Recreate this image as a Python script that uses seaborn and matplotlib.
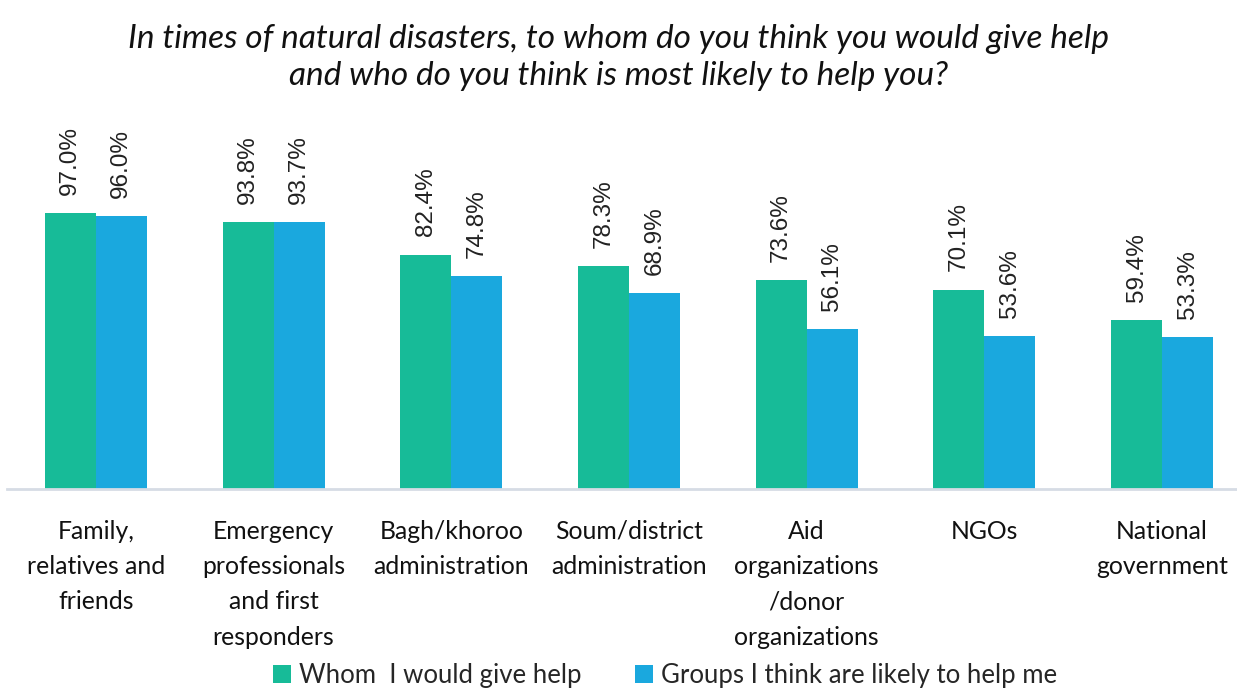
import pandas as pd
import numpy as np
import matplotlib
matplotlib.use("Agg")
import matplotlib.pyplot as plt
import seaborn as sns

categories = ["Family,\nrelatives and\nfriends",
              "Emergency\nprofessionals\nand first\nresponders",
              "Bagh/khoroo\nadministration",
              "Soum/district\nadministration",
              "Aid\norganizations\n/donor\norganizations",
              "NGOs",
              "National\ngovernment"]
give_help = [97.0, 93.8, 82.4, 78.3, 73.6, 70.1, 59.4]
get_help = [96.0, 93.7, 74.8, 68.9, 56.1, 53.6, 53.3]
series = ["Whom  I would give help", "Groups I think are likely to help me"]
colors = ["#17bb98", "#1aa8de"]

df = pd.DataFrame({
    "category": categories * 2,
    "value": give_help + get_help,
    "series": [series[0]] * 7 + [series[1]] * 7,
})

sns.set_style("white")
plt.rcParams['font.family'] = ['Lato', 'DejaVu Sans']

fig = plt.figure(figsize=(12.37, 6.91), dpi=100)
ax = fig.add_axes([7 / 1237, 202 / 691, 1244 / 1237, 313 / 691])

sns.barplot(data=df, x="category", y="value", hue="series", palette=colors,
            width=0.574, gap=0, saturation=1, linewidth=0, ax=ax, legend=True)

for c in ax.containers:
    ax.bar_label(c, labels=[f"{v:.1f}%" for v in c.datavalues], rotation=90,
                 padding=13, fontsize=17.5, family="Liberation Sans", color="#222222")

ax.set_xlim(-0.5, 6.5)
ax.set_ylim(0, 110)
ax.set_xlabel("")
ax.set_ylabel("")
ax.set_yticks([])
for s in ["top", "left", "right"]:
    ax.spines[s].set_visible(False)
ax.spines["bottom"].set_color("#d6dce5")
ax.spines["bottom"].set_linewidth(2)
ax.tick_params(axis="x", length=0, pad=22)
for t in ax.get_xticklabels():
    t.set_fontsize(17.8)
    t.set_linespacing(1.65)
    t.set_verticalalignment("top")
    t.set_color("#111111")

ax.legend(loc="center", ncol=2, frameon=False, fontsize=18.5, handlelength=0.7,
          handleheight=0.7, handletextpad=0.3, columnspacing=2.1)
leg = ax.get_legend()
leg.set_bbox_to_anchor((665 / 1237, 16 / 691), transform=fig.transFigure)

fig.text(0.5, 0.965, "In times of natural disasters, to whom do you think you would give help\n"
         "and who do you think is most likely to help you?", ha="center", va="top",
         fontsize=24, style="italic", linespacing=1.3, color="#111111")

fig.savefig("out.png", dpi=100)
